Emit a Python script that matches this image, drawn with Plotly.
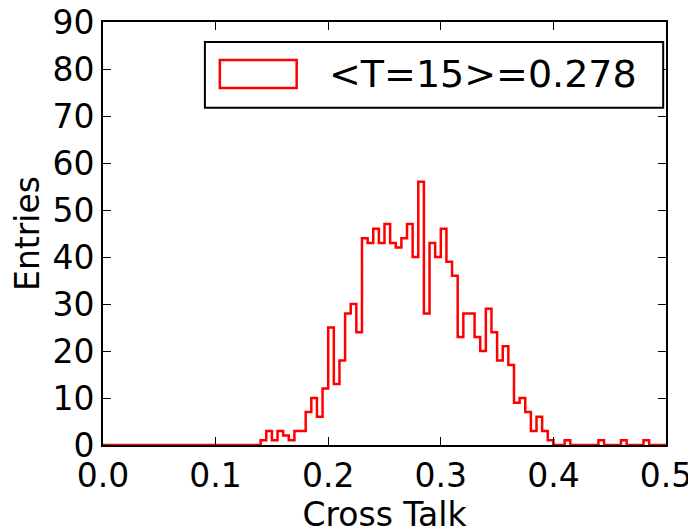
import plotly.graph_objects as go

# Histogram: 100 bins from 0.0 to 0.5 (bin width 0.005)
bin_lo = 0.0
bin_hi = 0.5
n_bins = 100
counts = [0] * 28 + [
    1, 3, 1, 3, 2, 1, 3, 3, 7, 10,      # bins 28-37
    6, 12, 25, 13, 18, 28, 30, 24, 44, 43,  # 38-47
    46, 43, 47, 43, 42, 44, 47, 40, 56, 28,  # 48-57
    43, 40, 46, 39, 36, 23, 28, 28, 23, 20,  # 58-67
    29, 24, 18, 21, 17, 9, 10, 7, 3, 6,      # 68-77
    3, 1, 0, 0, 1, 0, 0, 0, 0, 0,            # 78-87
    1, 0, 0, 0, 1, 0, 0, 0, 1, 0,            # 88-97
    0, 0,                                    # 98-99
]
legend_label = "<T=15>=0.278"
x_ticks = [0.0, 0.1, 0.2, 0.3, 0.4, 0.5]
y_ticks = [0, 10, 20, 30, 40, 50, 60, 70, 80, 90]

width = (bin_hi - bin_lo) / n_bins
edges = [bin_lo + i * width for i in range(n_bins + 1)]
step_y = counts + [counts[-1]]

FONT = "DejaVu Sans"
fig = go.Figure()
fig.add_trace(go.Scatter(
    x=edges, y=step_y, mode="lines", line=dict(color="red", width=2.5, shape="hv"),
    showlegend=False, hoverinfo="skip", cliponaxis=False,
))

axis_common = dict(
    showline=True, linecolor="black", linewidth=2, mirror="ticks",
    ticks="inside", ticklen=8, tickwidth=1.2, tickcolor="black",
    showgrid=False, zeroline=False, automargin=False, ticklabeloverflow="allow",
    tickfont=dict(family=FONT, size=33, color="black"),
)
fig.update_xaxes(
    range=[0, 0.5], tickvals=x_ticks, ticktext=[f"{v:.1f}" for v in x_ticks],
    title=dict(text="Cross Talk", font=dict(family=FONT, size=33, color="black"), standoff=8),
    **axis_common,
)
fig.update_yaxes(
    range=[0, 90], tickvals=y_ticks, ticktext=[str(v) for v in y_ticks],
    title=dict(text="Entries", font=dict(family=FONT, size=33, color="black"), standoff=6),
    **axis_common,
)

# Legend drawn manually (matplotlib-style box)
fig.add_shape(type="rect", xref="paper", yref="paper", x0=0.181, x1=0.995, y0=0.797, y1=0.953,
              line=dict(color="black", width=2), fillcolor="white", layer="above")
fig.add_shape(type="rect", xref="paper", yref="paper", x0=0.2075, x1=0.344, y0=0.844, y1=0.910,
              line=dict(color="red", width=2.5), fillcolor="rgba(0,0,0,0)", layer="above")
fig.add_annotation(xref="paper", yref="paper", x=0.398, y=0.877, xanchor="left", yanchor="middle",
                   text=legend_label.replace("<", "&lt;").replace(">", "&gt;"), showarrow=False,
                   font=dict(family=FONT, size=38, color="black"))

fig.update_layout(
    width=696, height=530,
    margin=dict(l=95, r=38, t=14, b=93),
    plot_bgcolor="white", paper_bgcolor="white",
    font=dict(family=FONT, color="black"),
)
fig.write_html("out.html")
